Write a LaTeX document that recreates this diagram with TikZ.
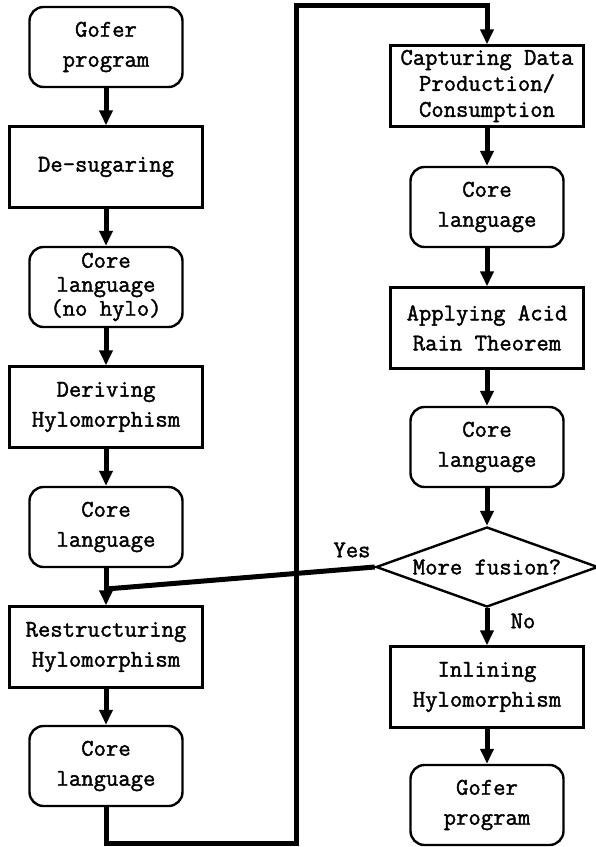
\documentclass[tikz,border=0pt]{standalone}
\usepackage{fontspec}
\newfontfamily\boxfont[FakeBold=1.6]{Latin Modern Mono}
\usetikzlibrary{shapes.geometric,arrows.meta}
\tikzset{
  roundbox/.style={draw,line width=2.4pt,rounded corners=14pt,minimum width=153pt,minimum height=80pt,align=center,inner sep=2pt},
  procbox/.style={draw,line width=2.4pt,minimum width=193pt,minimum height=81pt,align=center,inner sep=2pt},
  choice/.style={draw,diamond,line width=2.4pt,aspect=2.8,minimum width=222pt,minimum height=80pt,inner sep=0pt},
  flow/.style={line width=5pt,-{Triangle[width=13pt,length=15pt]}},
  plainflow/.style={line width=5pt}
}
\begin{document}
\begin{tikzpicture}[x=1pt,y=-1pt,font=\fontsize{24}{30}\selectfont\boxfont]
			\useasboundingbox (0,0) rectangle (596,847);
			\node[roundbox] (gofer1) at (106,47) {Gofer\\program};
			\node[procbox] (desugar) at (106,167) {De-sugaring};
			\node[roundbox,font=\fontsize{24}{24}\selectfont\boxfont] (core1) at (106,287) {Core\\language\\(no hylo)};
			\node[procbox] (derive) at (106,407) {Deriving\\Hylomorphism};
			\node[roundbox] (core2) at (106,527) {Core\\language};
			\node[procbox] (restruct) at (106,647) {Restructuring\\Hylomorphism};
			\node[roundbox] (core3) at (106,766) {Core\\language};
			\node[procbox,font=\fontsize{24}{26}\selectfont\boxfont] (capture) at (487,86) {Capturing Data\\Production/\\Consumption};
			\node[roundbox] (core4) at (487,207) {Core\\language};
			\node[procbox] (acid) at (487,328) {Applying Acid\\Rain Theorem};
			\node[roundbox] (core5) at (487,447) {Core\\language};
			\node[choice] (fusion) at (487,567) {More fusion?};
			\node[procbox] (inline) at (487,687) {Inlining\\Hylomorphism};
			\node[roundbox] (gofer2) at (487,805) {Gofer\\program};
			\coordinate (merge) at (106,589);
			\coordinate (bottomturn) at (296,843);
			\coordinate (topturn) at (296,5);
			\draw[flow] (gofer1) -- (desugar);
			\draw[flow] (desugar) -- (core1);
			\draw[flow] (core1) -- (derive);
			\draw[flow] (derive) -- (core2);
			\draw[flow] (core2) -- (restruct);
			\draw[plainflow] (fusion.west) -- (merge);
			\draw[flow] (restruct) -- (core3);
			\draw[flow] (core3.south) -- (core3.south |- bottomturn) -- (bottomturn) -- (topturn) -| (capture.north);
			\draw[flow] (capture) -- (core4);
			\draw[flow] (core4) -- (acid);
			\draw[flow] (acid) -- (core5);
			\draw[flow] (core5) -- (fusion);
			\draw[flow] (fusion) -- (inline);
			\draw[flow] (inline) -- (gofer2);
			\node (yes) at (352,550) {Yes};
			\node (no) at (523,621) {No};
		\end{tikzpicture}
\end{document}
